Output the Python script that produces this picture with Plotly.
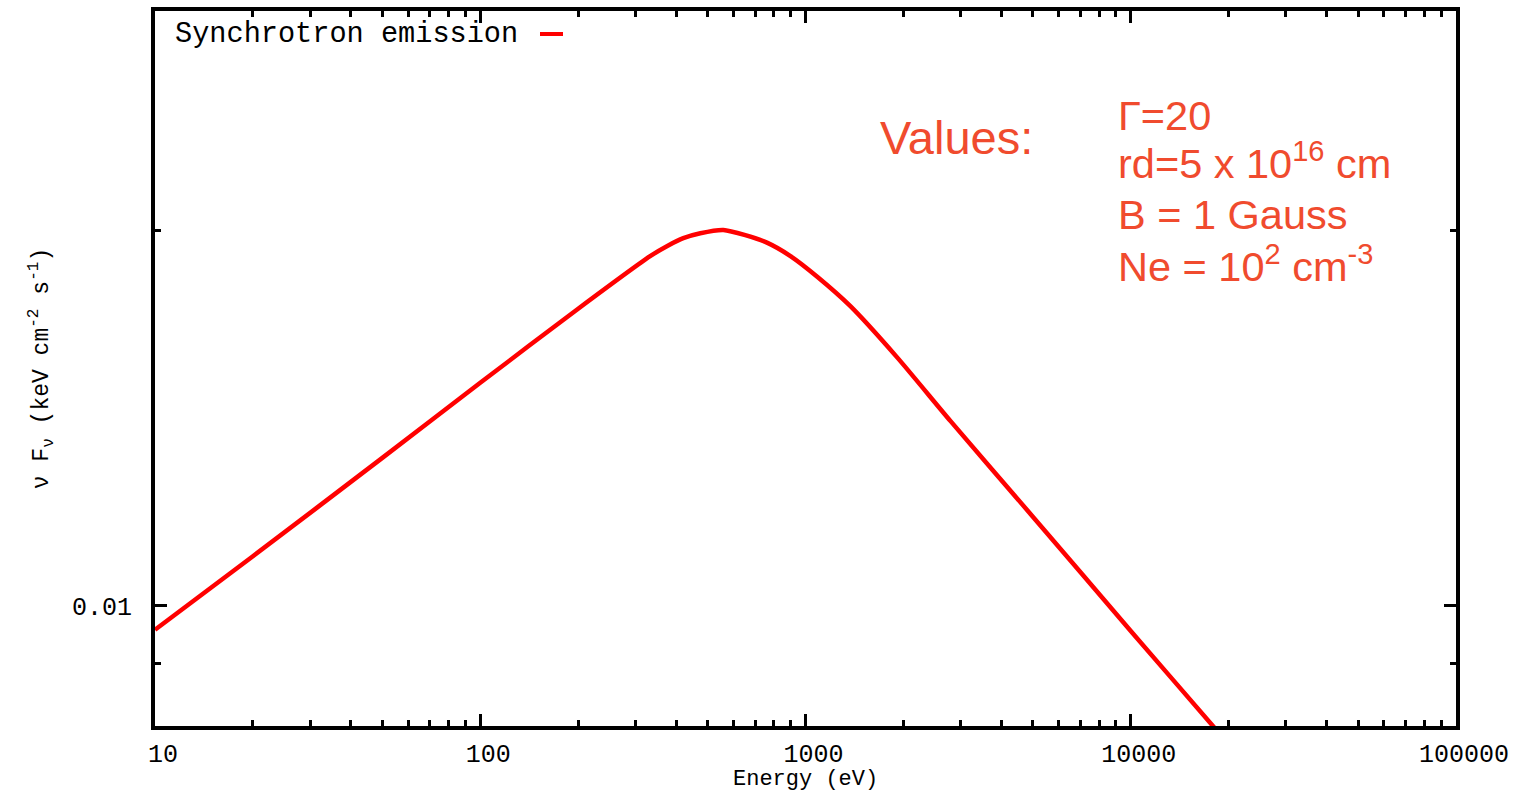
import plotly.graph_objects as go

# Data
energy_ev = [10, 20, 50, 100, 200, 333, 376, 421, 475, 559, 653, 764, 899, 1089,
             1374, 1919, 2793, 5000, 10000, 18000, 20000]
nu_f_nu = [0.00957, 0.01096, 0.01314, 0.01509, 0.0173, 0.01906, 0.01942, 0.0197, 0.01988,
           0.0200, 0.01981, 0.01953, 0.01906, 0.01834, 0.01738, 0.0158, 0.01406, 0.01179,
           0.00955, 0.00800, 0.00775]

x_major = [10, 100, 1000, 10000, 100000]
x_major_text = ["10", "100", "1000", "10000", "100000"]
x_minor = [m * d for d in [10, 100, 1000, 10000] for m in range(2, 10)]
y_major = [0.01]
y_major_text = ["0.01"]
y_minor = [0.008, 0.009, 0.02, 0.03]

series_name = "Synchrotron emission"
x_title = "Energy (eV)"
y_title = "ν F<sub>ν</sub> (keV cm<sup>-2</sup> s<sup>-1</sup>)"
param_title = "Values:"
param_lines = ["Γ=20", "rd=5 x 10<sup>16</sup> cm", "B = 1 Gauss", "Ne = 10<sup>2</sup> cm<sup>-3</sup>"]
param_line_y = [115, 161, 215, 264]

W, H = 1518, 792
L, R, T, B = 155, 1456, 11, 726
pw, ph = R - L, B - T

def px(x):
    return (x - L) / pw

def py(y):
    return (B - y) / ph

mono = "Liberation Mono, Courier New, monospace"
sans = "Liberation Sans, Arial, sans-serif"
orange = "#F04B2E"

fig = go.Figure()
fig.add_trace(go.Scatter(
    x=energy_ev, y=nu_f_nu, mode="lines", name=series_name,
    line=dict(color="#FF0000", width=4.5, shape="spline", smoothing=0.6),
    showlegend=False,
))

axis_common = dict(
    showline=True, linecolor="black", linewidth=4, mirror="allticks",
    ticks="inside", ticklen=12, tickwidth=3, tickcolor="black",
    showgrid=False, zeroline=False,
    tickfont=dict(family=mono, size=25, color="black"),
)

fig.update_xaxes(
    type="log", range=[1, 5],
    tickmode="array", tickvals=x_major, ticktext=x_major_text,
    minor=dict(tickmode="array", tickvals=x_minor, ticks="inside", ticklen=6,
               tickwidth=3, tickcolor="black", showgrid=False),
    ticklabelstandoff=2, ticklabelshift=8,
    **axis_common,
)
fig.update_yaxes(
    type="log", range=[-2.0961, -1.5236],
    tickmode="array", tickvals=y_major, ticktext=y_major_text,
    minor=dict(tickmode="array", tickvals=y_minor, ticks="inside", ticklen=6,
               tickwidth=3, tickcolor="black", showgrid=False),
    ticklabelstandoff=14,
    title=dict(text=y_title, font=dict(family=mono, size=23, color="black"), standoff=18),
    **axis_common,
)

# x-axis title near the bottom page edge
fig.add_annotation(xref="paper", yref="paper", x=px(805), y=py(765), xanchor="center", yanchor="top",
                   text=x_title, showarrow=False, font=dict(family=mono, size=22, color="black"))

# gnuplot-style key: text then line sample
fig.add_annotation(xref="paper", yref="paper", x=px(173), y=py(35), xanchor="left", yanchor="middle",
                   text=series_name, showarrow=False, font=dict(family=mono, size=28.6, color="black"))
fig.add_shape(type="line", xref="paper", yref="paper", x0=px(540), x1=px(563), y0=py(34), y1=py(34),
              line=dict(color="#FF0000", width=4))

fig.add_annotation(xref="paper", yref="paper", x=px(878), y=py(137), xanchor="left", yanchor="middle",
                   text=param_title, showarrow=False, font=dict(family=sans, size=47, color=orange))
for t, yy in zip(param_lines, param_line_y):
    fig.add_annotation(xref="paper", yref="paper", x=px(1116), y=py(yy),
                       xanchor="left", yanchor="middle", text=t, showarrow=False,
                       font=dict(family=sans, size=41.5, color=orange))

fig.update_layout(
    width=W, height=H,
    margin=dict(l=L, r=W - R, t=T, b=H - B, autoexpand=False),
    paper_bgcolor="white", plot_bgcolor="white",
)

fig.write_html("out.html")
